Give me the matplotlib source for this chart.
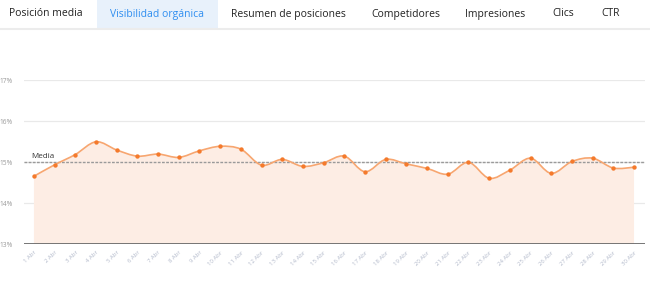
import numpy as np
import matplotlib
matplotlib.use('Agg')
import matplotlib.pyplot as plt
from matplotlib.path import Path
from matplotlib.patches import PathPatch, Rectangle

tabs = ['Posición media', 'Visibilidad orgánica', 'Resumen de posiciones',
        'Competidores', 'Impresiones', 'Clics', 'CTR']
tab_x = [46, 157, 288, 406, 495, 563, 611]
active_tab = 1

days = ['%d Abr' % d for d in range(1, 31)]
visibility = [14.66, 14.94, 15.19, 15.50, 15.30, 15.15, 15.20, 15.12, 15.28, 15.39,
              15.32, 14.93, 15.07, 14.90, 14.99, 15.15, 14.77, 15.07, 14.96, 14.85,
              14.71, 15.00, 14.61, 14.81, 15.10, 14.73, 15.02, 15.10, 14.86, 14.88]
y_ticks = [13, 14, 15, 16, 17]

line_col = '#f7a670'
dot_col = '#f47a2c'
fill_col = '#fdede4'

W, H = 650, 290
fig = plt.figure(figsize=(W / 100, H / 100), dpi=100)
plt.rcParams['font.family'] = ['Open Sans', 'DejaVu Sans']

# tab bar
top = fig.add_axes([0, 0, 1, 1])
top.set_xlim(0, W)
top.set_ylim(H, 0)
top.axis('off')
top.add_patch(Rectangle((97, 0), 121, 28, color='#e8f1fb', lw=0))
top.plot([0, W], [28.5, 28.5], color='#ececec', lw=1.5)
for i, (t, x) in enumerate(zip(tabs, tab_x)):
    top.text(x, 14, t, ha='center', va='center', fontsize=7.5,
             color='#2f8ef0' if i == active_tab else '#222222')

# chart
ax = fig.add_axes([24 / W, 1 - 244.3 / H, (645 - 24) / W, (244.3 - 80.3) / H])
x = np.arange(len(days))
y = np.array(visibility)

# smooth curve through the points (Catmull-Rom as cubic Bezier)
p = np.column_stack([x, y])
verts = [p[0]]
codes = [Path.MOVETO]
t = 0.5
for i in range(len(p) - 1):
    p0 = p[i - 1] if i > 0 else p[i]
    p3 = p[i + 2] if i + 2 < len(p) else p[i + 1]
    c1 = p[i] + (p[i + 1] - p0) * t / 3
    c2 = p[i + 1] - (p3 - p[i]) * t / 3
    verts += [c1, c2, p[i + 1]]
    codes += [Path.CURVE4] * 3
curve = Path(verts, codes)
fill_path = Path(verts + [(x[-1], 13), (x[0], 13), p[0]],
                 codes + [Path.LINETO, Path.LINETO, Path.CLOSEPOLY])

for v in y_ticks[1:]:
    ax.axhline(v, color='#e9e9e9', lw=0.9, zorder=0)
ax.add_patch(PathPatch(fill_path, facecolor=fill_col, edgecolor='none', zorder=1))
ax.add_patch(PathPatch(curve, facecolor='none', edgecolor=line_col, lw=1.2, zorder=3))

media = float(np.mean(y))
ax.axhline(media, color='#9a9a9a', lw=1.0, ls=(0, (2, 1)), zorder=2)
ax.text(-0.15, media + 0.03, 'Media', fontsize=5.8, color='#333333', va='bottom', zorder=4)

ax.scatter(x, y, s=10, color=dot_col, zorder=4, lw=0)
ax.axhline(13, color='#6b6b6b', lw=1.3, zorder=5)

ax.set_xlim(-0.48, 29.53)
ax.set_ylim(13, 17)
for s in ax.spines.values():
    s.set_visible(False)
ax.set_yticks(y_ticks)
ax.set_yticklabels(['%d%%' % v for v in y_ticks], fontsize=4.8, color='#9a9a9a')
ax.set_xticks(x)
ax.set_xticklabels(days, rotation=45, ha='right', rotation_mode='anchor',
                   fontsize=4.3, color='#b3bacb')
ax.tick_params(length=0, pad=4)
ax.tick_params(axis='y', pad=4)
for lab in ax.get_yticklabels():
    lab.set_ha('left')
    lab.set_x(-24 / 621 + 5 / 621)

fig.savefig('out.png', dpi=100)
